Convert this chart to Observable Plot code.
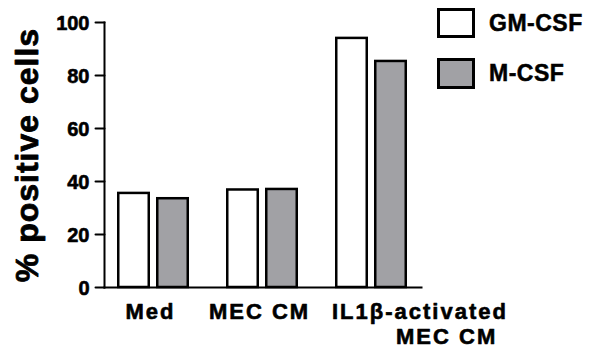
<!DOCTYPE html>
<html>
<head>
<meta charset="utf-8">
<script src="https://cdn.jsdelivr.net/npm/d3@7"></script>
<script src="https://cdn.jsdelivr.net/npm/@observablehq/plot@0.6"></script>
<style>
  html, body { margin: 0; padding: 0; background: #fff; }
  #wrap { position: relative; width: 595px; height: 350px; font-family: "Liberation Sans", Arial, sans-serif; font-weight: bold; }
  #wrap svg { position: absolute; left: 0; top: 0; }
  svg g[font-size="22"] { letter-spacing: 2px; }
  svg g[font-size="32"] { letter-spacing: 1px; }
  .leg { position: absolute; box-sizing: border-box; border: 3px solid #000; width: 38px; }
  .legt { position: absolute; font-size: 23px; line-height: 23px; letter-spacing: 0.5px; color: #000; -webkit-text-stroke: 0.5px #000; }
</style>
</head>
<body>
<div id="wrap"></div>
<script>
const categories = ["Med", "MEC CM", "IL1β-activated MEC CM"];
const labelLine1 = ["Med", "MEC CM", "IL1β-activated"];
const labelLine2 = ["", "", "MEC CM"];
const series = ["GM-CSF", "M-CSF"];
const gmcsf = [35.5, 36.8, 94.0];
const mcsf = [33.5, 37.0, 85.3];
const yTicks = [0, 20, 40, 60, 80, 100];
const yLabel = "% positive cells";
const colors = ["#ffffff", "#a1a1a5"];

const gmData = categories.map((c, i) => ({category: c, value: gmcsf[i]}));
const mData = categories.map((c, i) => ({category: c, value: mcsf[i]}));
const lab = categories.map((c, i) => ({category: c, l1: labelLine1[i], l2: labelLine2[i]}));

const font = "'Liberation Sans', Arial, sans-serif";
const tickShape = {draw(ctx, l) { ctx.moveTo(0, 0); ctx.lineTo(0, -l); }};
const heavy = {fontWeight: "bold", fill: "#000", stroke: "#000", strokeWidth: 0.6};

const chart = Plot.plot({
  width: 595,
  height: 350,
  marginLeft: 104,
  marginRight: 174,
  marginTop: 22,
  marginBottom: 63,
  style: {fontFamily: font, fontWeight: "bold", color: "#000", background: "transparent", overflow: "visible"},
  x: {domain: categories, type: "band", paddingInner: 0.336, paddingOuter: 0.109, axis: null},
  y: {domain: [0, 100], axis: null},
  marks: [
    Plot.barY(gmData, {x: "category", y: "value", fill: colors[0], stroke: "#000", strokeWidth: 2.5, insetLeft: 1.25, insetRight: 40.25}),
    Plot.barY(mData, {x: "category", y: "value", fill: colors[1], stroke: "#000", strokeWidth: 2.5, insetLeft: 40.25, insetRight: 1.25}),
    Plot.frame({anchor: "left", stroke: "#000", strokeWidth: 2}),
    Plot.frame({anchor: "bottom", stroke: "#000", strokeWidth: 2}),
    Plot.vector(yTicks, {y: d => d, frameAnchor: "left", length: 9, rotate: -90, anchor: "start", shape: tickShape, stroke: "#000", strokeWidth: 2}),
    Plot.text(yTicks, {y: d => d, text: d => String(d), frameAnchor: "left", textAnchor: "end", dx: -15, dy: 1, fontSize: 20, ...heavy}),
    Plot.text(lab.filter(d => d.l2 === ""), {x: "category", y: 0, text: "l1", dy: 16, dx: -3, lineAnchor: "top", fontSize: 22, ...heavy}),
    Plot.text(lab.filter(d => d.l2 !== ""), {x: "category", y: 0, text: "l1", dy: 16, dx: -39.5, textAnchor: "start", lineAnchor: "top", fontSize: 22, ...heavy}),
    Plot.text(lab.filter(d => d.l2 !== ""), {x: "category", y: 0, text: "l2", dy: 41, dx: 24.5, textAnchor: "start", lineAnchor: "top", fontSize: 22, ...heavy}),
    Plot.text([yLabel], {frameAnchor: "left", textAnchor: "middle", lineAnchor: "middle", rotate: -90, dx: -77, fontSize: 32, ...heavy, strokeWidth: 0.8})
  ]
});

const wrap = document.getElementById("wrap");
wrap.appendChild(chart);

// Legend
const legendPos = [{top: 8, h: 30, tTop: 12}, {top: 58, h: 31, tTop: 62}];
series.forEach((s, i) => {
  const box = document.createElement("div");
  box.className = "leg";
  box.style.left = "437px";
  box.style.top = legendPos[i].top + "px";
  box.style.height = legendPos[i].h + "px";
  box.style.background = colors[i];
  wrap.appendChild(box);
  const t = document.createElement("div");
  t.className = "legt";
  t.style.left = "489px";
  t.style.top = legendPos[i].tTop + "px";
  t.textContent = s;
  wrap.appendChild(t);
});
</script>
</body>
</html>
